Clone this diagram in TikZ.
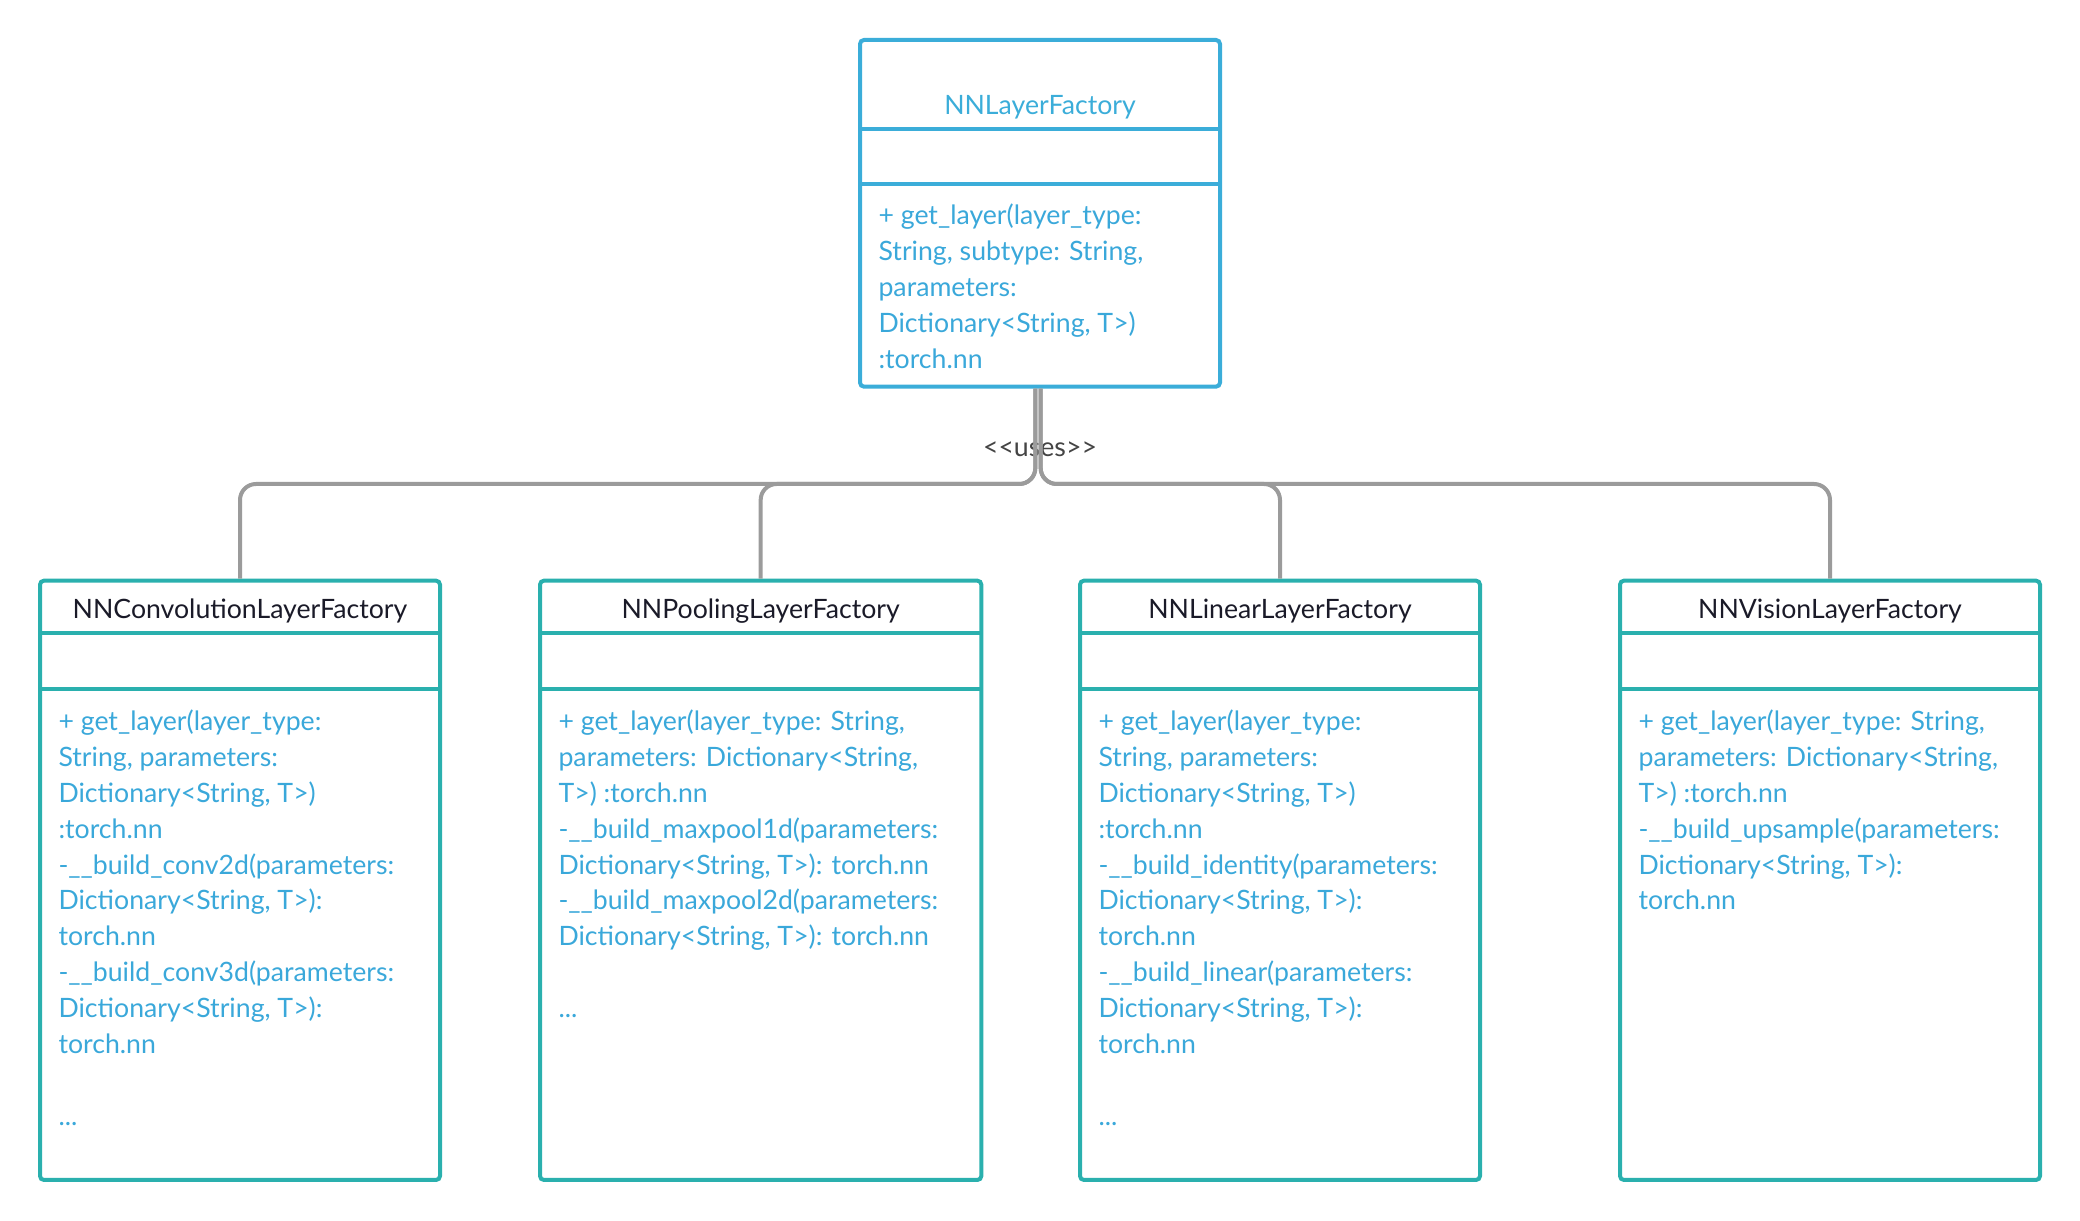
\documentclass[tikz,border=0pt]{standalone}
\usepackage{fontspec}
\setmainfont{Lato}
\usetikzlibrary{positioning}
\definecolor{topblue}{HTML}{3BADD9}
\definecolor{boxteal}{HTML}{2AB0AE}
\definecolor{textblue}{HTML}{3AA8DA}
\definecolor{linkgray}{HTML}{9B9B9B}
\definecolor{labelgray}{HTML}{444444}
\definecolor{namecolor}{HTML}{1A1A28}
\tikzset{
    topbox/.style ={
        shape=rectangle,
        draw=topblue,
        line width=1.5pt,
        rounded corners=1.5pt,
        inner sep=0pt
    },
    classbox/.style ={
        shape=rectangle,
        draw=boxteal,
        line width=1.5pt,
        rounded corners=1.5pt,
        inner sep=0pt
    },
    topline/.style ={draw=topblue, line width=1.5pt},
    classline/.style ={draw=boxteal, line width=1.5pt},
    toptitle/.style ={
        text=topblue,
        font=\fontsize{10pt}{12pt}\selectfont
    },
    classname/.style ={
        text=namecolor,
        font=\fontsize{10pt}{12pt}\selectfont
    },
    methods/.style ={
        anchor=north west,
        align=left,
        inner sep=0pt,
        text=textblue,
        font=\fontsize{10pt}{13.45pt}\selectfont
    },
    link/.style ={
        draw=linkgray,
        line width=1.5pt,
        rounded corners=6pt
    },
    uses/.style ={
        text=labelgray,
        font=\fontsize{10pt}{12pt}\selectfont
    }
}

\begin{document}
\begin{tikzpicture}[x=0.5pt,y=-0.5pt]
    \useasboundingbox (0,0) rectangle (1560,915.75);

    % factory on top
    \node[topbox, minimum width=135pt, minimum height=130pt] (top) at (780,160) {};
    \node[toptitle] (topname) at (780,80.5) {NNLayerFactory};
    \draw[topline] ([yshift=-34pt]top.north west) -- ([yshift=-34pt]top.north east);
    \draw[topline] ([yshift=-54.75pt]top.north west) -- ([yshift=-54.75pt]top.north east);
    \node[methods] (topops) at ([xshift=7.5pt,yshift=-62pt]top.north west)
        {+ get\_layer(layer\_type:\\String, subtype: String,\\parameters:\\Dictionary<String, T>)\\:torch.nn};

    % the four factories below
    \node[classbox, minimum width=150pt, minimum height=224.75pt] (conv) at (180,660.25) {};
    \node[classbox, minimum width=165.5pt, minimum height=224.75pt] (pool) at (570.5,660.25) {};
    \node[classbox, minimum width=150pt, minimum height=224.75pt] (linear) at (960,660.25) {};
    \node[classbox, minimum width=157.5pt, minimum height=224.75pt] (vision) at (1372.5,660.25) {};

    \node[classname] (convname) at ([yshift=-12pt]conv.north) {NNConvolutionLayerFactory};
    \node[classname] (poolname) at ([yshift=-12pt]pool.north) {NNPoolingLayerFactory};
    \node[classname] (linearname) at ([yshift=-12pt]linear.north) {NNLinearLayerFactory};
    \node[classname] (visionname) at ([yshift=-12pt]vision.north) {NNVisionLayerFactory};

    \draw[classline] ([yshift=-20.5pt]conv.north west) -- ([yshift=-20.5pt]conv.north east);
    \draw[classline] ([yshift=-41.25pt]conv.north west) -- ([yshift=-41.25pt]conv.north east);
    \draw[classline] ([yshift=-20.5pt]pool.north west) -- ([yshift=-20.5pt]pool.north east);
    \draw[classline] ([yshift=-41.25pt]pool.north west) -- ([yshift=-41.25pt]pool.north east);
    \draw[classline] ([yshift=-20.5pt]linear.north west) -- ([yshift=-20.5pt]linear.north east);
    \draw[classline] ([yshift=-41.25pt]linear.north west) -- ([yshift=-41.25pt]linear.north east);
    \draw[classline] ([yshift=-20.5pt]vision.north west) -- ([yshift=-20.5pt]vision.north east);
    \draw[classline] ([yshift=-41.25pt]vision.north west) -- ([yshift=-41.25pt]vision.north east);

    \node[methods] (convops) at ([xshift=7.5pt,yshift=-49pt]conv.north west)
        {+ get\_layer(layer\_type:\\String, parameters:\\Dictionary<String, T>)\\:torch.nn\\
         -\_\_build\_conv2d(parameters:\\Dictionary<String, T>):\\torch.nn\\
         -\_\_build\_conv3d(parameters:\\Dictionary<String, T>):\\torch.nn\\ \\...};
    \node[methods] (poolops) at ([xshift=7.5pt,yshift=-49pt]pool.north west)
        {+ get\_layer(layer\_type: String,\\parameters: Dictionary<String,\\T>) :torch.nn\\
         -\_\_build\_maxpool1d(parameters:\\Dictionary<String, T>): torch.nn\\
         -\_\_build\_maxpool2d(parameters:\\Dictionary<String, T>): torch.nn\\ \\...};
    \node[methods] (linearops) at ([xshift=7.5pt,yshift=-49pt]linear.north west)
        {+ get\_layer(layer\_type:\\String, parameters:\\Dictionary<String, T>)\\:torch.nn\\
         -\_\_build\_identity(parameters:\\Dictionary<String, T>):\\torch.nn\\
         -\_\_build\_linear(parameters:\\Dictionary<String, T>):\\torch.nn\\ \\...};
    \node[methods] (visionops) at ([xshift=7.5pt,yshift=-49pt]vision.north west)
        {+ get\_layer(layer\_type: String,\\parameters: Dictionary<String,\\T>) :torch.nn\\
         -\_\_build\_upsample(parameters:\\Dictionary<String, T>):\\torch.nn};

    % uses links
    \coordinate (lefthub) at (776.5,363);
    \coordinate (righthub) at (780.5,363);
    \node[uses] (useslabel) at (780,337) {\mbox{<}\mbox{<}uses\mbox{>}\mbox{>}};
    \draw[link] (conv.north) |- (lefthub) -- (lefthub |- top.south);
    \draw[link] (pool.north) |- (lefthub) -- (lefthub |- top.south);
    \draw[link] (linear.north) |- (righthub) -- (righthub |- top.south);
    \draw[link] (vision.north) |- (righthub) -- (righthub |- top.south);
\end{tikzpicture}
\end{document}
